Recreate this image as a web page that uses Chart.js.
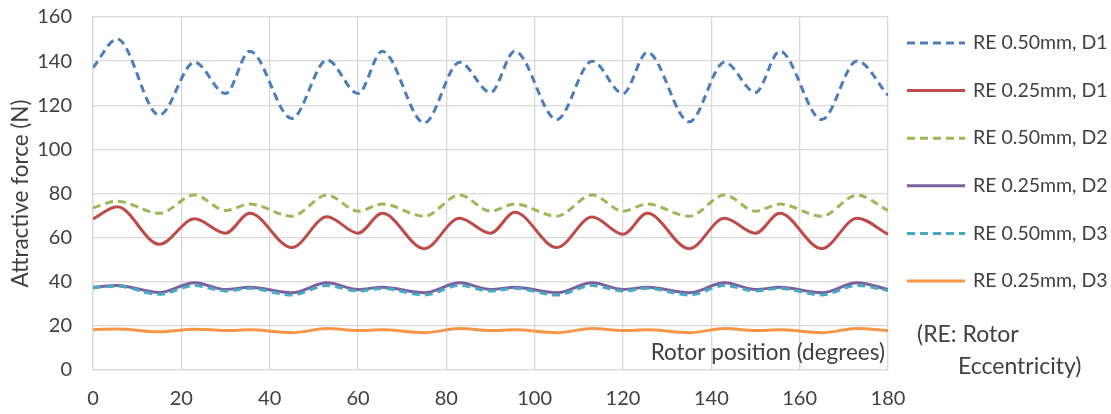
<!DOCTYPE html>
<html>
<head>
<meta charset="utf-8">
<title>Attractive force vs rotor position</title>
<script src="https://cdn.jsdelivr.net/npm/chart.js@4"></script>
<style>
  html, body { margin: 0; padding: 0; background: #fff; }
  #wrap { width: 1111px; height: 414px; }
</style>
</head>
<body>
<div id="wrap"><canvas id="forceChart" width="1111" height="414"></canvas></div>
<script>
// rotor angle (degrees) at each sampled point
const angles = [0, 5.5, 15, 23, 30, 35.5, 45, 53, 60, 65.5, 75, 83, 90, 95.5, 105, 113, 120, 125.5, 135, 143, 150, 155.5, 165, 173, 180];

// attractive force (N) per case
const re050D1 = [137, 150, 115.5, 139.5, 125.3, 144.5, 114, 140.5, 125.3, 144.5, 112, 139.5, 125.8, 144.5, 113.5, 140, 125.3, 144, 112.5, 139.5, 125.8, 144.5, 113.5, 140, 124.5];
const re025D1 = [68.5, 74, 57, 68.5, 62, 71, 55.5, 69.5, 62, 71, 55, 68.8, 62, 71.5, 55.5, 69.3, 61.5, 71, 55, 68.8, 62, 71, 55, 68.8, 61.5];
const re050D2 = [73.5, 76.5, 71, 79.3, 72.3, 75.2, 69.7, 79.3, 72, 75.2, 69.7, 79.3, 72, 75.2, 69.7, 79.3, 72, 75.2, 69.7, 79.3, 72, 75.2, 69.7, 79.3, 72.3];
const re025D2 = [37.5, 38.3, 35.1, 39.6, 36.5, 37.5, 35, 39.5, 36.5, 37.5, 35, 39.5, 36.5, 37.5, 35, 39.5, 36.5, 37.5, 35, 39.5, 36.5, 37.5, 35, 39.5, 36.5];
const re050D3 = [37.3, 38, 34.3, 38.3, 35.8, 37, 34, 38.3, 35.8, 37, 34, 38.3, 35.8, 37, 34, 38.3, 35.8, 37, 34, 38.3, 35.8, 37, 34, 38.3, 36];
const re025D3 = [18.3, 18.6, 17.3, 18.5, 17.9, 18.2, 16.9, 18.8, 17.9, 18.2, 16.9, 18.8, 17.9, 18.2, 16.9, 18.8, 17.9, 18.2, 16.9, 18.8, 17.9, 18.2, 16.9, 18.8, 17.9];

const seriesLabels = ['RE 0.50mm, D1', 'RE 0.25mm, D1', 'RE 0.50mm, D2', 'RE 0.25mm, D2', 'RE 0.50mm, D3', 'RE 0.25mm, D3'];
const seriesValues = [re050D1, re025D1, re050D2, re025D2, re050D3, re025D3];
const seriesColors = ['#4a7ebb', '#be4b48', '#98b954', '#7d5fa0', '#46aac5', '#f79646'];
const seriesDashed = [true, false, true, false, true, false];

const xTicks = [0, 20, 40, 60, 80, 100, 120, 140, 160, 180];
const yTicks = [0, 20, 40, 60, 80, 100, 120, 140, 160];

const FONT = 'Lato, "DejaVu Sans", sans-serif';
const TEXT = '#404040';
const GRID = '#d9d9d9';
const DASH = [8, 5];

const datasets = seriesValues.map((vals, i) => ({
  label: seriesLabels[i],
  data: vals.map((v, k) => ({ x: angles[k], y: v })),
  borderColor: seriesColors[i],
  backgroundColor: seriesColors[i],
  borderWidth: 3,
  borderDash: seriesDashed[i] ? DASH : [],
  pointRadius: 0,
  cubicInterpolationMode: 'monotone',
  fill: false,
  order: seriesValues.length - i   // later series painted on top
}));

// legend column on the right, plus the two free-standing notes
const sideNotes = {
  id: 'sideNotes',
  afterDraw(chart) {
    const { ctx, chartArea } = chart;
    ctx.save();
    ctx.textBaseline = 'middle';
    ctx.fillStyle = TEXT;

    const lx = chartArea.right + 19;
    chart.data.datasets.forEach((ds, i) => {
      const y = 43 + i * 47.6;
      ctx.beginPath();
      ctx.strokeStyle = ds.borderColor;
      ctx.lineWidth = 3;
      ctx.setLineDash(ds.borderDash);
      ctx.moveTo(lx, y);
      ctx.lineTo(lx + 58, y);
      ctx.stroke();
      ctx.setLineDash([]);
      ctx.font = '19.5px ' + FONT;
      ctx.textAlign = 'left';
      ctx.fillText(ds.label, lx + 66, y);
    });

    ctx.font = '23px ' + FONT;
    ctx.textAlign = 'left';
    ctx.fillText('(RE: Rotor', chartArea.right + 29, 335);
    ctx.fillText('Eccentricity)', chartArea.right + 70, 367);

    ctx.font = '22.5px ' + FONT;
    ctx.textAlign = 'right';
    ctx.fillText('Rotor position (degrees)', chartArea.right - 3, chartArea.bottom - 17);
    ctx.restore();
  }
};

new Chart(document.getElementById('forceChart'), {
  type: 'line',
  data: { datasets: datasets },
  options: {
    responsive: false,
    animation: false,
    layout: { padding: { top: 17, right: 223, bottom: 0, left: 0 } },
    plugins: {
      legend: { display: false },
      tooltip: { enabled: false }
    },
    scales: {
      x: {
        type: 'linear',
        min: 0,
        max: 180,
        afterBuildTicks: (axis) => { axis.ticks = xTicks.map(v => ({ value: v })); },
        afterFit: (axis) => { axis.height = 44; },
        ticks: { color: TEXT, font: { family: FONT, size: 20 }, padding: 17, maxRotation: 0 },
        grid: { color: GRID, lineWidth: 1.3, drawTicks: false },
        border: { color: GRID, width: 1.3 }
      },
      y: {
        min: 0,
        max: 160,
        afterBuildTicks: (axis) => { axis.ticks = yTicks.map(v => ({ value: v })); },
        afterFit: (axis) => {
          axis.width = 93;
          // label padding would otherwise push the plot down
          axis.paddingTop = 0;
          axis.paddingBottom = 0;
        },
        ticks: { color: TEXT, font: { family: FONT, size: 20 }, padding: 21 },
        grid: { color: GRID, lineWidth: 1.3, drawTicks: false },
        border: { color: GRID, width: 1.3 },
        title: {
          display: true,
          text: 'Attractive force (N)',
          color: TEXT,
          font: { family: FONT, size: 22.5 },
          padding: { top: 7, bottom: 0 }
        }
      }
    }
  },
  plugins: [sideNotes]
});
</script>
</body>
</html>
